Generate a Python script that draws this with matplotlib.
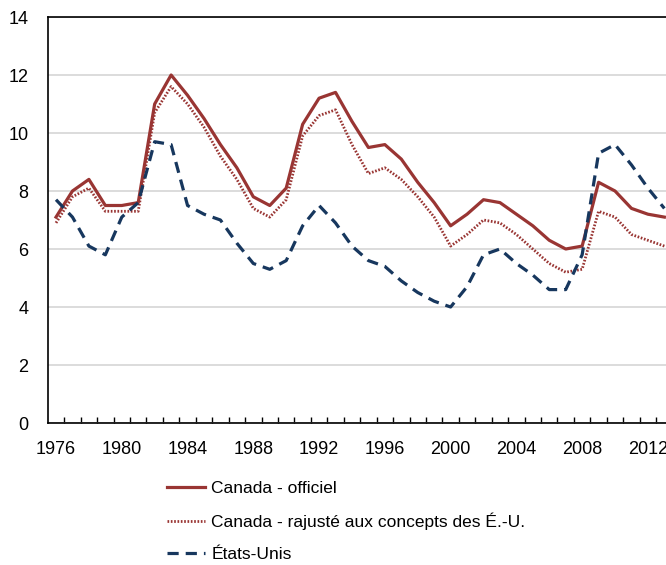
import numpy as np
import matplotlib
matplotlib.use("Agg")
import matplotlib.pyplot as plt

plt.rcParams['font.family'] = ['Liberation Sans', 'DejaVu Sans']

# data
years = list(range(1976, 2014))
canada_officiel = [7.1, 8.0, 8.4, 7.5, 7.5, 7.6, 11.0, 12.0, 11.3, 10.5,
                   9.6, 8.8, 7.8, 7.5, 8.1, 10.3, 11.2, 11.4, 10.4, 9.5,
                   9.6, 9.1, 8.3, 7.6, 6.8, 7.2, 7.7, 7.6, 7.2, 6.8,
                   6.3, 6.0, 6.1, 8.3, 8.0, 7.4, 7.2, 7.1]
canada_rajuste = [6.9, 7.8, 8.1, 7.3, 7.3, 7.3, 10.7, 11.6, 11.0, 10.2,
                  9.2, 8.4, 7.4, 7.1, 7.7, 9.9, 10.6, 10.8, 9.6, 8.6,
                  8.8, 8.4, 7.8, 7.1, 6.1, 6.5, 7.0, 6.9, 6.5, 6.0,
                  5.5, 5.2, 5.3, 7.3, 7.1, 6.5, 6.3, 6.1]
etats_unis = [7.7, 7.1, 6.1, 5.8, 7.1, 7.6, 9.7, 9.6, 7.5, 7.2,
              7.0, 6.2, 5.5, 5.3, 5.6, 6.8, 7.5, 6.9, 6.1, 5.6,
              5.4, 4.9, 4.5, 4.2, 4.0, 4.7, 5.8, 6.0, 5.5, 5.1,
              4.6, 4.6, 5.8, 9.3, 9.6, 8.9, 8.1, 7.4]
labels = ['Canada - officiel', 'Canada - rajusté aux concepts des É.-U.', 'États-Unis']

red = '#993533'
blue = '#17375E'

fig = plt.figure(figsize=(6.66, 5.65), dpi=100)
ax = fig.add_axes([47.8 / 666, 1 - 423 / 565, 1 - 47.8 / 666, (423 - 17) / 565])

x = np.arange(len(years))
ax.plot(x, canada_officiel, color=red, lw=2.3, label=labels[0])
ax.plot(x, canada_rajuste, color=red, lw=2.0, ls=(0, (0.6, 0.6)), label=labels[1])
ax.plot(x, etats_unis, color=blue, lw=2.3, ls=(0, (3.5, 2.2)), label=labels[2])

ax.set_ylim(0, 14)
ax.set_xlim(-0.5, 37.1)
ax.set_yticks(range(0, 15, 2))
ax.grid(axis='y', color='#D9D9D9', lw=1.3)
ax.set_axisbelow(True)
ax.tick_params(axis='y', length=0, pad=14, labelsize=13)

ax.set_xticks(x[::4])
ax.set_xticklabels([str(y) for y in years[::4]])
ax.set_xticks(np.arange(0.5, 37, 1), minor=True)
ax.tick_params(axis='x', which='major', length=0, pad=13, labelsize=13)
ax.tick_params(axis='x', which='minor', direction='in', length=4.5, width=1, color='black')

ax.spines['right'].set_visible(False)
for s in ['left', 'top', 'bottom']:
    ax.spines[s].set_linewidth(1.2)
    ax.spines[s].set_color('black')

fig.legend(loc='upper left', bbox_to_anchor=(167 / 666, 1 - 481 / 565),
           frameon=False, fontsize=12.5, handlelength=2.2, handletextpad=0.35,
           labelspacing=0.97, borderpad=0, borderaxespad=0)

fig.savefig('out.png', dpi=100)
